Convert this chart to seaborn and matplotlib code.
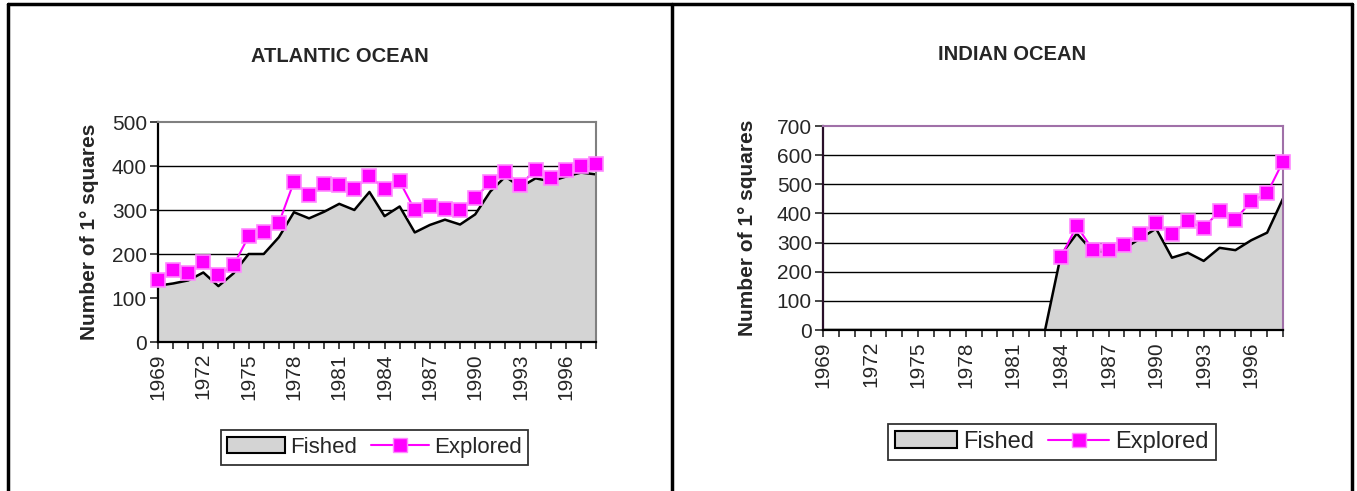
import numpy as np
import pandas as pd
import seaborn as sns
import matplotlib.pyplot as plt
from matplotlib.lines import Line2D
from matplotlib.patches import Patch

sns.set_theme(style="white")
plt.rcParams["font.family"] = ["Liberation Sans", "DejaVu Sans"]

years = list(range(1969, 1999))

atlantic_fished = [128, 133, 140, 158, 127, 156, 200, 200, 238, 295, 281, 296,
                   314, 300, 341, 286, 308, 249, 266, 278, 267, 290, 342, 376,
                   352, 372, 365, 376, 385, 381]
atlantic_explored = [140, 163, 157, 181, 153, 174, 240, 249, 270, 364, 334, 359,
                     356, 347, 378, 347, 365, 300, 309, 303, 300, 327, 364, 387,
                     357, 392, 372, 391, 401, 405]

indian_fished = [0] * 15 + [258, 331, 270, 268, 280, 314, 348, 248, 265, 237,
                            282, 274, 308, 334, 451]
indian_explored = [np.nan] * 15 + [250, 357, 276, 276, 290, 331, 367, 331, 373,
                                   350, 409, 379, 442, 469, 578]

FILL = "#d4d4d4"
MAGENTA = "#ff00ff"

fig = plt.figure(figsize=(13.57, 4.91), dpi=100)


def draw_panel(rect, title, title_xy, fished, explored, ymax, frame_color,
               left_color, legend_xy, legend_size, labelpad):
    ax = fig.add_axes(rect)
    df = pd.DataFrame({"year": years, "fished": fished, "explored": explored})
    ax.fill_between(df["year"], 0, df["fished"], color=FILL, zorder=1, linewidth=0)
    for y in range(100, ymax, 100):
        ax.axhline(y, color="black", lw=1.0, zorder=0.5)
    sns.lineplot(data=df, x="year", y="fished", ax=ax, color="black", lw=1.8,
                 zorder=2, legend=False)
    sns.lineplot(data=df.dropna(), x="year", y="explored", ax=ax, color=MAGENTA,
                 lw=1.5, marker="s", markersize=10, markerfacecolor=MAGENTA,
                 markeredgecolor="#ff88ff", markeredgewidth=1.2, zorder=3,
                 legend=False, clip_on=False)
    ax.set_xlim(1969, 1998)
    ax.set_ylim(0, ymax)
    ax.set_yticks(range(0, ymax + 1, 100))
    ax.set_xticks(years)
    ax.set_xticklabels([str(y) if (y - 1969) % 3 == 0 else "" for y in years],
                       rotation=90, fontsize=15)
    ax.tick_params(axis="y", labelsize=15, direction="out", length=6, width=1.2,
                   left=True, pad=2)
    ax.tick_params(axis="x", direction="out", length=5, width=1.2, bottom=True,
                   pad=3)
    ax.set_xlabel("")
    ax.set_ylabel("Number of 1° squares", fontsize=15, fontweight="bold",
                  labelpad=labelpad)
    for s in ("top", "right"):
        ax.spines[s].set_color(frame_color)
        ax.spines[s].set_linewidth(1.5)
    ax.spines["left"].set_color(left_color)
    ax.spines["bottom"].set_color("black")
    for s in ("left", "bottom"):
        ax.spines[s].set_linewidth(1.6)
    ax.set_facecolor("white")
    fig.text(title_xy[0], title_xy[1], title, ha="center", va="center",
             fontsize=14.5, fontweight="bold")
    handles = [Patch(facecolor=FILL, edgecolor="black", linewidth=1.5, label="Fished"),
               Line2D([], [], color=MAGENTA, lw=1.5, marker="s", markersize=10,
                      markerfacecolor=MAGENTA, markeredgecolor="#ff88ff",
                      label="Explored")]
    leg = fig.legend(handles=handles, loc="center", bbox_to_anchor=legend_xy,
                     ncol=2, fontsize=legend_size, frameon=True, fancybox=False,
                     edgecolor="black", handlelength=2.6, handletextpad=0.25,
                     columnspacing=0.6, borderpad=0.3)
    leg.get_frame().set_linewidth(1.3)
    return ax


W, H = 1357, 491


def frac_rect(x0, x1, ytop, ybot):
    return [x0 / W, 1 - ybot / H, (x1 - x0) / W, (ybot - ytop) / H]


draw_panel(frac_rect(158, 596, 122, 342), "ATLANTIC OCEAN", (340 / W, 1 - 57 / H),
           atlantic_fished, atlantic_explored, 500, "#808080", "black",
           (374.5 / W, 1 - 447.5 / H), 16, 9)
draw_panel(frac_rect(823, 1283, 126, 330), "INDIAN OCEAN", (1012 / W, 1 - 55 / H),
           indian_fished, indian_explored, 700, "#a070a8", "#2a102a",
           (1052 / W, 1 - 442 / H), 17, 14)

# panel frames
for x in (8, 672, 1352):
    fig.add_artist(Line2D([x / W, x / W], [0, 1 - 4 / H], color="black", lw=2.5,
                          transform=fig.transFigure))
fig.add_artist(Line2D([8 / W, 1352 / W], [1 - 4 / H, 1 - 4 / H], color="black",
                      lw=2.5, transform=fig.transFigure))

fig.savefig("out.png", dpi=100, facecolor="white")
